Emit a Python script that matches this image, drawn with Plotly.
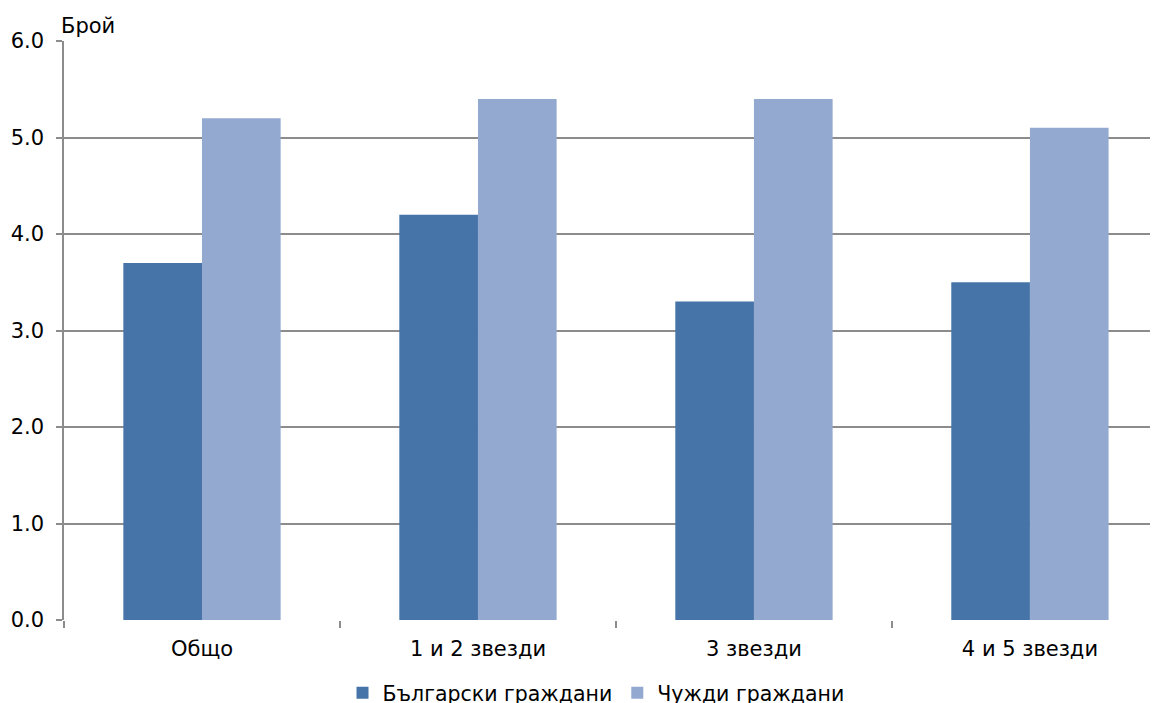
import plotly.graph_objects as go

categories = ["Общо", "1 и 2 звезди", "3 звезди", "4 и 5 звезди"]
bulgarian = [3.7, 4.2, 3.3, 3.5]
foreign = [5.2, 5.4, 5.4, 5.1]
series_names = ["Български граждани", "Чужди граждани"]
y_ticks = [0, 1, 2, 3, 4, 5, 6]
y_tick_labels = ["0.0", "1.0", "2.0", "3.0", "4.0", "5.0", "6.0"]

FONT = "DejaVu Sans"

fig = go.Figure()
fig.add_trace(go.Bar(x=categories, y=bulgarian, name=series_names[0],
                     marker=dict(color="#4674A8", line=dict(width=0))))
fig.add_trace(go.Bar(x=categories, y=foreign, name=series_names[1],
                     marker=dict(color="#94A9D0", line=dict(width=0))))

fig.update_layout(
    width=1150, height=695,
    margin=dict(l=56, r=0, t=33, b=83, autoexpand=False),
    paper_bgcolor="white", plot_bgcolor="white",
    barmode="group", bargap=0.43, bargroupgap=0,
    font=dict(family=FONT, size=21, color="#000000"),
    showlegend=True,
    legend=dict(orientation="h", x=0.4863, xanchor="center", y=-0.126, yanchor="middle",
                font=dict(family=FONT, size=20.5), itemwidth=30, traceorder="normal"),
    xaxis=dict(range=[-0.5, 3.464], showgrid=False, ticks="outside", tickson="boundaries",
               ticklen=7, tickcolor="#8C8C8C", tickwidth=1.5, automargin=False,
               ticklabelstandoff=14,
               showline=False, tickfont=dict(family=FONT, size=21)),
    yaxis=dict(range=[0, 6], tickvals=y_ticks, ticktext=y_tick_labels,
               showgrid=True, gridcolor="#8C8C8C", gridwidth=1.5,
               showline=True, linecolor="#8C8C8C", linewidth=1.5,
               ticks="outside", ticklen=6, tickcolor="#8C8C8C", tickwidth=1.5,
               automargin=False, ticklabelstandoff=8,
               tickfont=dict(family=FONT, size=21), zeroline=False),
    annotations=[dict(text="Брой", xref="paper", yref="paper", x=0, y=1,
                      xanchor="left", yanchor="bottom", yshift=1, xshift=-5,
                      showarrow=False, font=dict(family=FONT, size=21))],
)

fig.write_html("out.html")
